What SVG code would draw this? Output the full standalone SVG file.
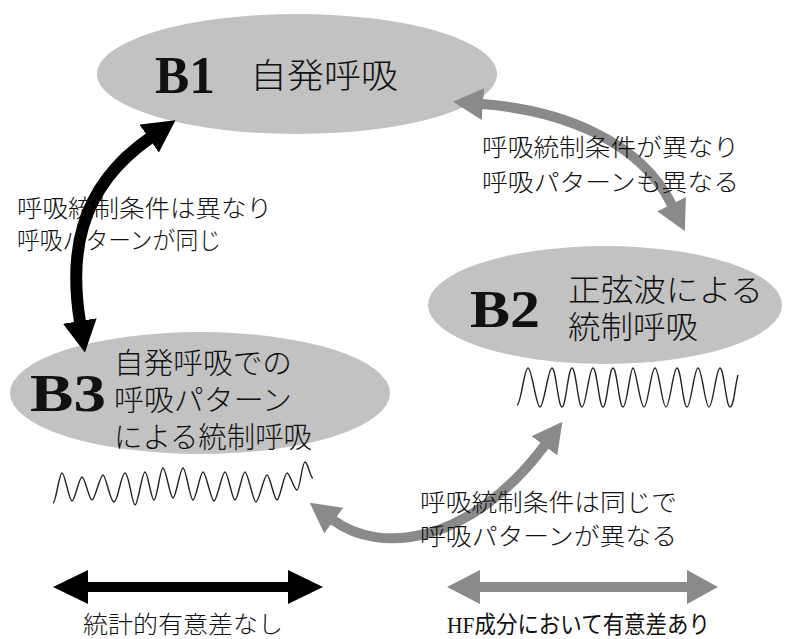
<svg xmlns="http://www.w3.org/2000/svg" width="793" height="639" viewBox="0 0 793 639">
<defs>
<style>
.ell{fill:#c2c2c2;stroke:none}
.bl{font-family:"Liberation Serif","Times New Roman",serif;font-weight:bold;font-size:52px;fill:#111}
.jp{font-family:"Noto Sans CJK JP","Noto Sans CJK SC",sans-serif;font-weight:300;fill:#111}
.lab{font-size:24px}
.big{font-size:31px}
.wave{fill:none;stroke:#222;stroke-width:1.4;stroke-linejoin:round}
.blk{fill:none;stroke:#000;stroke-width:12}
.gry{fill:none;stroke:#8a8a8a;stroke-width:10}
</style>
<marker id="hb" markerUnits="userSpaceOnUse" viewBox="0 0 32 34" refX="1" refY="17" markerWidth="32" markerHeight="34" orient="auto-start-reverse"><path d="M0,0 L32,17 L0,34 z" fill="#000"/></marker>
<marker id="hg" markerUnits="userSpaceOnUse" viewBox="0 0 30 32" refX="1" refY="16" markerWidth="30" markerHeight="32" orient="auto-start-reverse"><path d="M0,0 L30,16 L0,32 z" fill="#8a8a8a"/></marker>
</defs>
<rect width="793" height="639" fill="#fff"/>

<g id="node-b1">
<ellipse class="ell" cx="297" cy="74" rx="200" ry="60"/>
<text class="bl" x="155" y="93" textLength="60" lengthAdjust="spacingAndGlyphs">B1</text>
<text class="jp" x="250" y="88" font-size="34" textLength="148" lengthAdjust="spacingAndGlyphs">自発呼吸</text>
</g>

<g id="node-b2">
<ellipse class="ell" cx="605" cy="305" rx="177" ry="59"/>
<text class="bl" x="470" y="327" textLength="70" lengthAdjust="spacingAndGlyphs">B2</text>
<text class="jp big" x="568" y="301" textLength="195" lengthAdjust="spacingAndGlyphs">正弦波による</text>
<text class="jp big" x="568" y="338" textLength="130" lengthAdjust="spacingAndGlyphs">統制呼吸</text>
<path class="wave" d="M517,405 C521,405 524,368 528,368 S536,407 540,407 S548,368 552,368 S558,407 562,407 S568,368 572,368 S578,407 582,407 S589,368 593,368 S599,407 603,407 S609,368 613,368 S619,407 623,407 S630,368 633,368 S640,407 644,407 S651,368 655,368 S662,407 666,407 S673,368 677,368 S683,407 687,407 S694,368 698,368 S705,407 709,407 S716,368 720,368 S726,407 730,407 S735,385 738,375"/>
</g>

<g id="node-b3">
<ellipse class="ell" cx="200" cy="393" rx="190" ry="61"/>
<text class="bl" x="30" y="411" textLength="76" lengthAdjust="spacingAndGlyphs">B3</text>
<text class="jp" x="114" y="374" font-size="29" textLength="178" lengthAdjust="spacingAndGlyphs">自発呼吸での</text>
<text class="jp" x="114" y="411" font-size="29" textLength="178" lengthAdjust="spacingAndGlyphs">呼吸パターン</text>
<text class="jp" x="114" y="448" font-size="29" textLength="198" lengthAdjust="spacingAndGlyphs">による統制呼吸</text>
<path class="wave" d="M53,503 C56,503 59,473 62,473 S69,501 72,501 S79,477 82,477 S89,500 92,500 S100,475 103,475 S110,502 114,502 S121,473 125,473 S132,505 135,505 S142,472 145,472 S151,500 154,500 S160,468 163,468 S170,498 173,498 S180,468 183,468 S190,500 193,500 S200,472 203,472 S211,501 214,501 S222,472 225,472 S232,500 235,500 S242,472 245,472 S253,502 256,502 S264,475 267,475 S274,500 277,500 S284,473 287,473 S294,490 297,490 S302,462 305,462 S310,478 313,478"/>
</g>

<g id="connectors">
<path class="blk" d="M80,322 C70,260 75,190 150,138" marker-start="url(#hb)" marker-end="url(#hb)"/>
<path class="gry" d="M482,104 C560,110 640,140 672,205" marker-start="url(#hg)" marker-end="url(#hg)"/>
<path class="gry" d="M333,520 C380,555 470,545 545,445" marker-start="url(#hg)" marker-end="url(#hg)"/>
</g>

<g id="labels">
<text class="jp lab" x="482" y="156" textLength="257" lengthAdjust="spacingAndGlyphs">呼吸統制条件が異なり</text>
<text class="jp lab" x="482" y="191" textLength="257" lengthAdjust="spacingAndGlyphs">呼吸パターンも異なる</text>
<text class="jp lab" x="17" y="217" textLength="255" lengthAdjust="spacingAndGlyphs">呼吸統制条件は異なり</text>
<text class="jp lab" x="17" y="249" textLength="204" lengthAdjust="spacingAndGlyphs">呼吸パターンが同じ</text>
<text class="jp lab" x="420" y="511" textLength="257" lengthAdjust="spacingAndGlyphs">呼吸統制条件は同じで</text>
<text class="jp lab" x="420" y="545" textLength="257" lengthAdjust="spacingAndGlyphs">呼吸パターンが異なる</text>
</g>

<g id="legend">
<polygon points="53,587 88,570 88,582 288,582 288,570 323,587 288,604 288,592 88,592 88,604" fill="#000"/>
<polygon points="447,587 480,570 480,582 687,582 687,570 718,587 687,604 687,592 480,592 480,604" fill="#8a8a8a"/>
<text class="jp lab" x="83" y="633" textLength="200" lengthAdjust="spacingAndGlyphs">統計的有意差なし</text>
<text x="447" y="633" font-size="24" font-family="'Liberation Serif','Noto Sans CJK JP',serif" fill="#111" textLength="263" lengthAdjust="spacingAndGlyphs">HF成分において有意差あり</text>
</g>
</svg>
